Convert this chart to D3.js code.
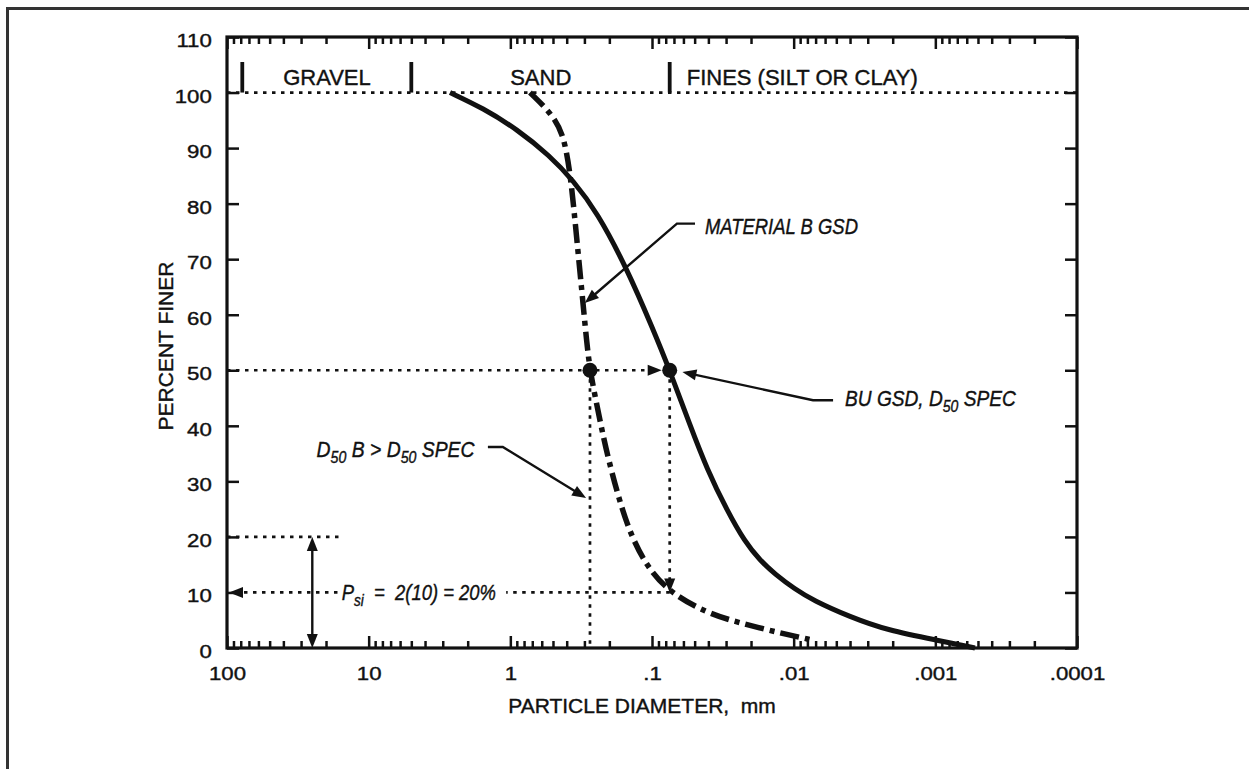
<!DOCTYPE html>
<html>
<head>
<meta charset="utf-8">
<script src="https://cdn.jsdelivr.net/npm/d3@7"></script>
<style>
  body { margin: 0; background: #fff; }
  svg { display: block; font-family: "Liberation Sans", Arial, Helvetica, sans-serif; }
  svg text { white-space: pre; stroke: #111; stroke-width: 0.4px; }
</style>
</head>
<body>
<div id="chart"></div>
<script>
// grain size distribution curves
const buSize = [2.665, 1.56, 0.8975, 0.525, 0.3613, 0.2446, 0.1509, 0.0984, 0.075, 0.0539, 0.0409, 0.0296, 0.0221, 0.0173, 0.01355, 0.00979, 0.0073, 0.004, 0.00219, 0.000927, 0.000525];
const buFiner = [100, 97.2, 93.4, 88.6, 84.2, 78.5, 68.4, 57.4, 50, 40.1, 32.2, 24.8, 19.1, 15.8, 13.3, 10.6, 8.6, 5.6, 3.2, 1.3, 0];

const matBSize = [0.7267, 0.4838, 0.4113, 0.373, 0.3496, 0.3275, 0.3069, 0.29, 0.274, 0.2457, 0.2218, 0.198, 0.1509, 0.109, 0.075, 0.0411, 0.0239, 0.01249, 0.0073];
const matBFiner = [100, 95.6, 91.4, 84.2, 77.0, 69.5, 62.1, 55.4, 50, 43.9, 38.3, 32.8, 21.8, 14.6, 10, 6.3, 4.5, 2.7, 1.4];

const d50Spec = 0.075;
const d50B = 0.274;

// axis ticks
const decades = [100, 10, 1, 0.1, 0.01, 0.001, 0.0001];
const decadeLabels = ["100", "10", "1", ".1", ".01", ".001", ".0001"];
const percentTicks = [0, 10, 20, 30, 40, 50, 60, 70, 80, 90, 100, 110];

// soil classes
const zoneBounds = [78, 5, 0.075];
const zoneNames = ["GRAVEL", "SAND", "FINES (SILT OR CLAY)"];
const zoneCenters = [19.7, 0.61, 0.0087];

const width = 1249;
const height = 769;
const ink = "#111";

const svg = d3.select("#chart")
    .append("svg")
    .attr("width", width)
    .attr("height", height);

// outer page frame (top and left edges only)
svg.append("path")
    .attr("d", "M7.5,769 L7.5,8.5 L1249,8.5")
    .attr("fill", "none")
    .attr("stroke", "#333")
    .attr("stroke-width", 3);

const x = d3.scaleLog().domain([100, 0.0001]).range([227, 1077]);
const y = d3.scaleLinear().domain([0, 110]).range([648, 37]);

// Axes
const minor = x.ticks().filter(d => !decades.some(m => Math.abs(Math.log10(d) - Math.log10(m)) < 1e-6));

const bottom = svg.append("g")
    .attr("transform", `translate(0,${y(0)})`)
    .call(d3.axisBottom(x).tickValues(decades).tickSize(-12).tickPadding(19)
        .tickFormat((d, i) => decadeLabels[i]));
svg.append("g")
    .attr("transform", `translate(0,${y(0)})`)
    .call(d3.axisBottom(x).tickValues(minor).tickSize(-7).tickFormat(""));
svg.append("g")
    .attr("transform", `translate(0,${y(110)})`)
    .call(d3.axisTop(x).tickValues(decades).tickSize(-12).tickFormat(""));
svg.append("g")
    .attr("transform", `translate(0,${y(110)})`)
    .call(d3.axisTop(x).tickValues(minor).tickSize(-7).tickFormat(""));

const left = svg.append("g")
    .attr("transform", `translate(${x(100)},0)`)
    .call(d3.axisLeft(y).tickValues(percentTicks).tickSize(-12).tickPadding(13));
svg.append("g")
    .attr("transform", `translate(${x(0.0001)},0)`)
    .call(d3.axisRight(y).tickValues(percentTicks).tickSize(-12).tickFormat(""));

svg.selectAll(".domain").remove();
svg.selectAll(".tick line").attr("stroke", ink).attr("stroke-width", 2.5);

bottom.selectAll("text")
    .attr("font-size", 19)
    .attr("fill", ink)
    .attr("transform", "scale(1.17,1)");
left.selectAll("text")
    .attr("font-size", 19)
    .attr("fill", ink)
    .attr("dy", "0.5em")
    .attr("transform", "scale(1.17,1)");

// plot frame
svg.append("rect")
    .attr("x", x(100))
    .attr("y", y(110))
    .attr("width", x(0.0001) - x(100))
    .attr("height", y(0) - y(110))
    .attr("fill", "none")
    .attr("stroke", ink)
    .attr("stroke-width", 3.2);

// Axis titles
svg.append("text")
    .attr("x", 642)
    .attr("y", 713)
    .attr("text-anchor", "middle")
    .attr("font-size", 21)
    .attr("fill", ink)
    .text("PARTICLE DIAMETER,  mm");

svg.append("text")
    .attr("transform", "translate(173,346) rotate(-90)")
    .attr("text-anchor", "middle")
    .attr("font-size", 21)
    .attr("fill", ink)
    .text("PERCENT FINER");

// Zones
function styleDotted(sel) {
    return sel.attr("stroke", ink)
        .attr("stroke-width", 2.7)
        .attr("stroke-dasharray", "3.5,5.5")
        .attr("fill", "none");
}

styleDotted(svg.append("line")
    .attr("x1", x(100)).attr("x2", x(0.0001))
    .attr("y1", y(100)).attr("y2", y(100)));

svg.selectAll(".zone-bar")
    .data(zoneBounds)
    .enter()
    .append("line")
    .attr("class", "zone-bar")
    .attr("x1", d => x(d)).attr("x2", d => x(d))
    .attr("y1", y(100)).attr("y2", y(105.5))
    .attr("stroke", ink)
    .attr("stroke-width", 3.8);

svg.selectAll(".zone-label")
    .data(zoneNames)
    .enter()
    .append("text")
    .attr("class", "zone-label")
    .attr("x", (d, i) => x(zoneCenters[i]))
    .attr("y", y(102.8) + 8)
    .attr("text-anchor", "middle")
    .attr("font-size", 22)
    .attr("fill", ink)
    .text(d => d);

// Curves
const line = d3.line()
    .x(d => x(d[0]))
    .y(d => y(d[1]))
    .curve(d3.curveBasis);

svg.append("path")
    .datum(buSize.map((s, i) => [s, buFiner[i]]))
    .attr("d", line)
    .attr("fill", "none")
    .attr("stroke", ink)
    .attr("stroke-width", 5);

svg.append("path")
    .datum(matBSize.map((s, i) => [s, matBFiner[i]]))
    .attr("d", line)
    .attr("fill", "none")
    .attr("stroke", ink)
    .attr("stroke-width", 5.5)
    .attr("stroke-dasharray", "19,6,5,6");

// arrowhead helper
function arrowHead(tip, from, len = 14, half = 5.5) {
    const dx = tip[0] - from[0], dy = tip[1] - from[1];
    const l = Math.hypot(dx, dy);
    const ux = dx / l, uy = dy / l;
    const bx = tip[0] - ux * len, by = tip[1] - uy * len;
    svg.append("path")
        .attr("d", `M${tip[0]},${tip[1]}L${bx - uy * half},${by + ux * half}L${bx + uy * half},${by - ux * half}Z`)
        .attr("fill", ink);
}

// Construction lines
// 50% line from the axis to the BU point
styleDotted(svg.append("line")
    .attr("x1", x(100)).attr("x2", x(d50Spec) - 20)
    .attr("y1", y(50)).attr("y2", y(50)));
arrowHead([x(d50Spec) - 8, y(50)], [x(d50Spec) - 30, y(50)]);

// verticals from the D50 points
styleDotted(svg.append("line")
    .attr("x1", x(d50B)).attr("x2", x(d50B))
    .attr("y1", y(50)).attr("y2", y(0)));
styleDotted(svg.append("line")
    .attr("x1", x(d50Spec)).attr("x2", x(d50Spec))
    .attr("y1", y(50)).attr("y2", y(10) - 10));
arrowHead([x(d50Spec), y(10)], [x(d50Spec), y(30)]);

// 10% line back to the axis, broken by the label
styleDotted(svg.append("line")
    .attr("x1", x(d50Spec)).attr("x2", x(1.07))
    .attr("y1", y(10)).attr("y2", y(10)));
styleDotted(svg.append("line")
    .attr("x1", x(16.6)).attr("x2", x(100) + 10)
    .attr("y1", y(10)).attr("y2", y(10)));
arrowHead([x(100) + 2, y(10)], [x(50), y(10)]);

// 20% line and double arrow
styleDotted(svg.append("line")
    .attr("x1", x(100)).attr("x2", x(15))
    .attr("y1", y(20)).attr("y2", y(20)));
svg.append("line")
    .attr("x1", x(25)).attr("x2", x(25))
    .attr("y1", y(20) + 8).attr("y2", y(0) - 8)
    .attr("stroke", ink)
    .attr("stroke-width", 2.4);
arrowHead([x(25), y(20)], [x(25), y(10)]);
arrowHead([x(25), y(0)], [x(25), y(10)]);

// D50 points
svg.selectAll(".d50")
    .data([[d50B, 50], [d50Spec, 50]])
    .enter()
    .append("circle")
    .attr("class", "d50")
    .attr("cx", d => x(d[0]))
    .attr("cy", d => y(d[1]))
    .attr("r", 7.5)
    .attr("fill", ink);

// Callouts
const materialLeader = [[0.0497, 76.4], [0.0667, 76.4], [0.298, 62.1]];
const buLeader = [[0.00527, 44.6], [0.0073, 44.6], [0.061, 49.7]];
const d50bLeader = [[1.44, 36.2], [1.13, 36.2], [0.292, 27.0]];

[materialLeader, buLeader, d50bLeader].forEach(pts => {
    const p = pts.map(d => [x(d[0]), y(d[1])]);
    const tip = p[p.length - 1], prev = p[p.length - 2];
    const l = Math.hypot(tip[0] - prev[0], tip[1] - prev[1]);
    const end = [tip[0] - (tip[0] - prev[0]) / l * 10, tip[1] - (tip[1] - prev[1]) / l * 10];
    svg.append("path")
        .attr("d", d3.line()(p.slice(0, -1).concat([end])))
        .attr("fill", "none")
        .attr("stroke", ink)
        .attr("stroke-width", 2.4);
    arrowHead(tip, prev);
});

function callout(pos, parts, sx) {
    const t = svg.append("text")
        .attr("transform", `translate(${x(pos[0])},${y(pos[1])}) scale(${sx},1)`)
        .attr("font-size", 22.5)
        .attr("font-style", "italic")
        .attr("fill", ink);
    parts.forEach(p => {
        const s = t.append("tspan").text(p.t);
        if (p.sub) s.attr("font-size", 16.5).attr("dy", 6);
        else if (p.up) s.attr("dy", -6);
    });
}

callout([0.0423, 74.6], [{ t: "MATERIAL B GSD" }], 0.82);
callout([0.00434, 43.5], [{ t: "BU GSD, D" }, { t: "50", sub: true }, { t: " SPEC", up: true }], 0.85);
callout([23.3, 34.4], [{ t: "D" }, { t: "50", sub: true }, { t: " B > D", up: true }, { t: "50", sub: true }, { t: " SPEC", up: true }], 0.86);
callout([15.5, 8.6], [{ t: "P" }, { t: "si", sub: true }, { t: "  =  2(10) = 20%", up: true }], 0.82);
</script>
</body>
</html>
